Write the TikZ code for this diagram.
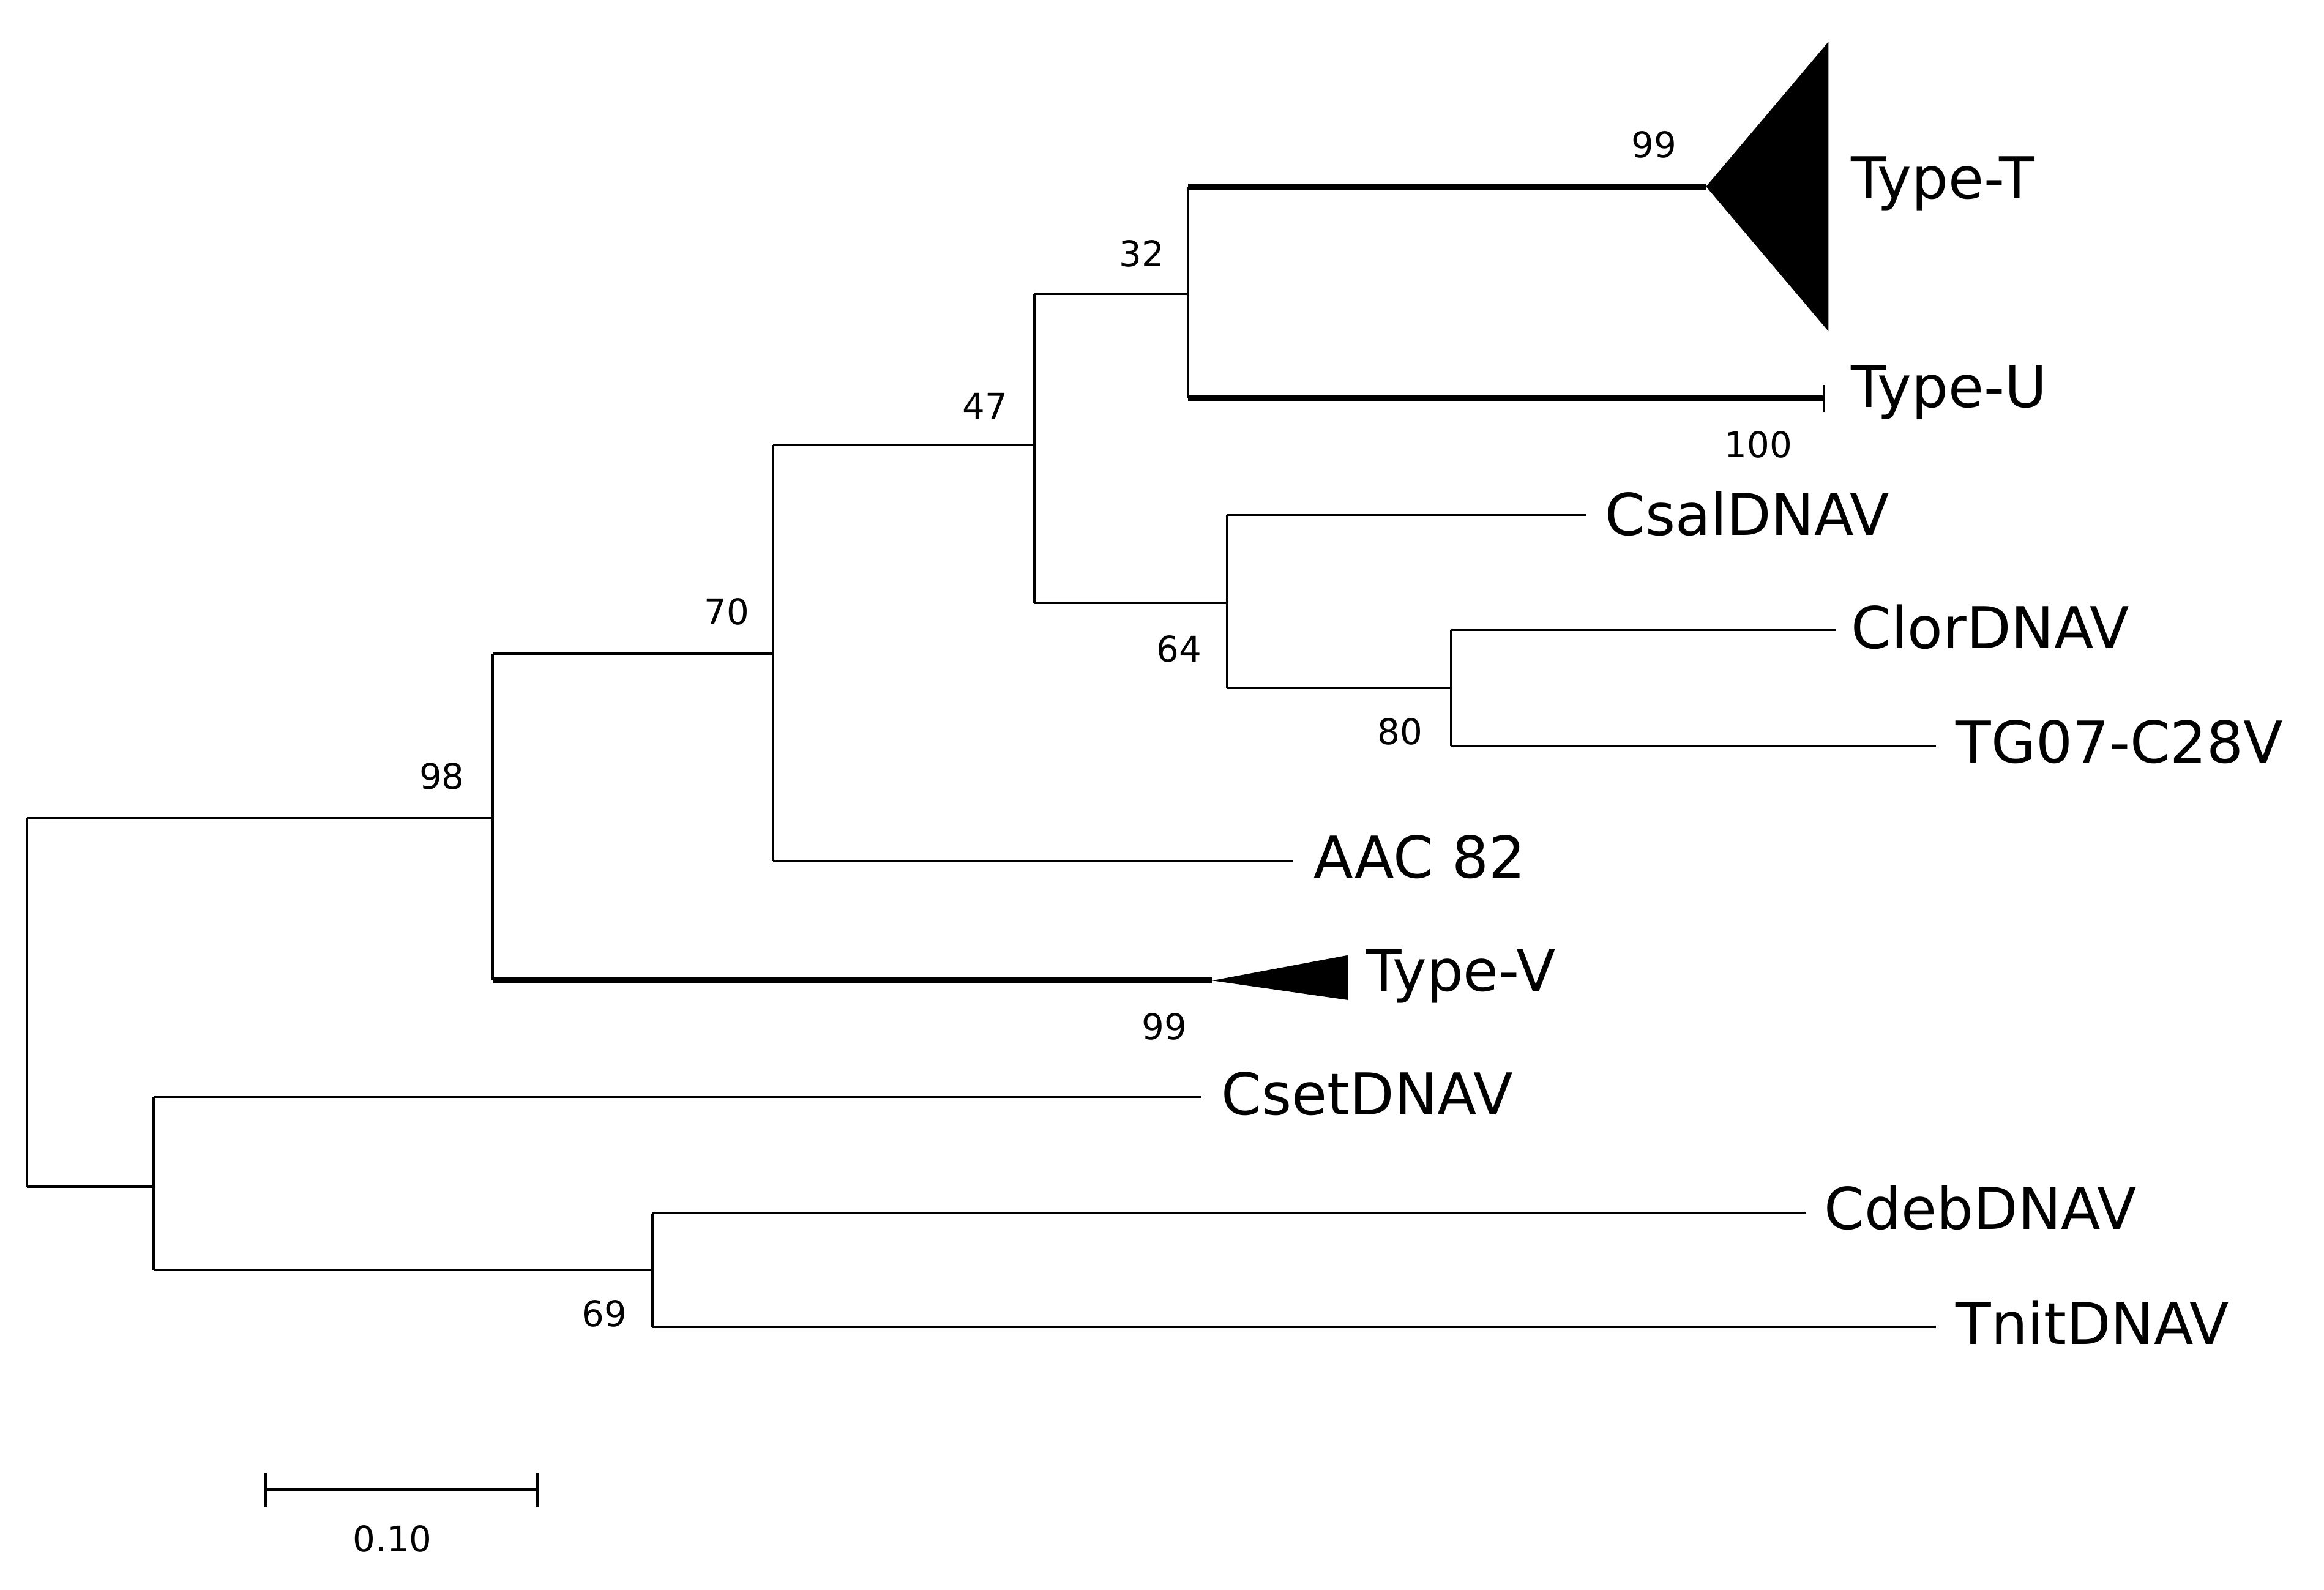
\documentclass[tikz,border=0pt]{standalone}
\usepackage{fontspec}
\setmainfont{DejaVu Sans}
\begin{document}
\begin{tikzpicture}[x=0.02cm,y=-0.02cm,
  br/.style={line width=0.85pt},
  thk/.style={line width=2.4pt},
  lab/.style={anchor=west,font=\fontsize{22}{24}\selectfont,inner sep=0pt},
  bs/.style={font=\fontsize{13.5}{15}\selectfont,inner sep=0pt}]
\useasboundingbox (0,0) rectangle (1557,1065);
% internal nodes
\coordinate (r1) at (18,548); \coordinate (r2) at (18,795);
\draw[br] (r1) -- (r2);
\draw[br] (r1) -- (330,548);
\draw[br] (r2) -- (103,795);
% node 98
\draw[br] (330,438) -- (330,657);
\node[bs] (l98) at (296,520) {98};
\draw[br] (330,438) -- (518,438);
% node 70
\draw[br] (518,298) -- (518,577);
\node[bs] (l70) at (487,410) {70};
\draw[br] (518,298) -- (693,298);
% node 47
\draw[br] (693,197) -- (693,404);
\node[bs] (l47) at (660,272) {47};
\draw[br] (693,197) -- (796,197);
% node 32
\draw[br] (796,125) -- (796,267);
\node[bs] (l32) at (765,170) {32};
\draw[thk] (796,125) -- (1143,125);
\fill (1143,125) -- (1225,28) -- (1225,222) -- cycle;
\node[bs] (l99a) at (1108,97) {99};
\node[lab] (tT) at (1240,123) {Type-T};
\draw[thk] (796,267) -- (1222,267);
\draw[br] (1222,258) -- (1222,276);
\node[bs] (l100) at (1178,298) {100};
\node[lab] (tU) at (1240,263) {Type-U};
% node 64
\draw[br] (693,404) -- (822,404);
\draw[br] (822,345) -- (822,461);
\node[bs] (l64) at (790,435) {64};
\draw[br] (822,345) -- (1063,345);
\node[lab] (csal) at (1075,344) {CsalDNAV};
\draw[br] (822,461) -- (972,461);
% node 80
\draw[br] (972,422) -- (972,500);
\node[bs] (l80) at (938,490) {80};
\draw[br] (972,422) -- (1230,422);
\node[lab] (clor) at (1240,420) {ClorDNAV};
\draw[br] (972,500) -- (1297,500);
\node[lab] (tg) at (1310,497) {TG07-C28V};
% AAC
\draw[br] (518,577) -- (866,577);
\node[lab] (aac) at (880,574) {AAC 82};
% Type-V
\draw[thk] (330,657) -- (812,657);
\fill (812,657) -- (903,640) -- (903,670) -- cycle;
\node[bs] (l99b) at (780,688) {99};
\node[lab] (tV) at (915,654) {Type-V};
% lower clade
\draw[br] (103,735) -- (103,851);
\draw[br] (103,735) -- (805,735);
\node[lab] (cset) at (818,733) {CsetDNAV};
\draw[br] (103,851) -- (437,851);
\draw[br] (437,813) -- (437,889);
\node[bs] (l69) at (405,880) {69};
\draw[br] (437,813) -- (1210,813);
\node[lab] (cdeb) at (1222,809) {CdebDNAV};
\draw[br] (437,889) -- (1297,889);
\node[lab] (tnit) at (1310,886) {TnitDNAV};
% scale bar
\draw[br] (178,998) -- (360,998);
\draw[br] (178,987) -- (178,1010);
\draw[br] (360,987) -- (360,1010);
\node[bs] (sc) at (263,1031) {0.10};
\end{tikzpicture}
\end{document}
